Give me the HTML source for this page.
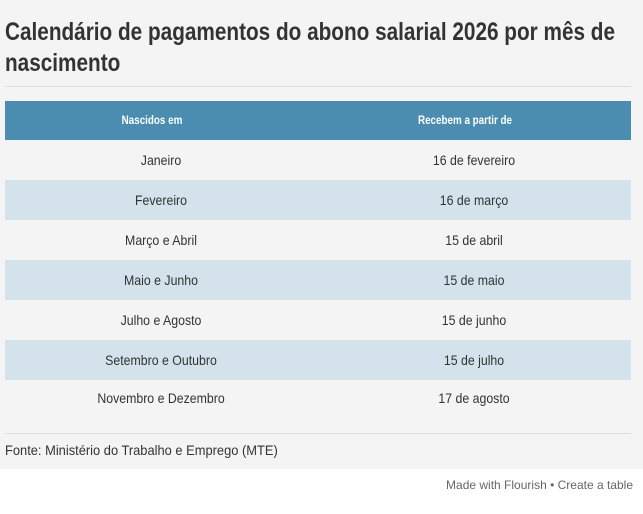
<!DOCTYPE html>
<html><head><meta charset="utf-8"><style>
body{margin:0;width:643px;height:514px;background:#fff;position:relative;overflow:hidden;font-family:"Liberation Sans",sans-serif;color:#333}
#bg{position:absolute;left:0;top:0;width:643px;height:469px;background:#f4f4f4}
.t{position:absolute;left:5px;font-size:25px;font-weight:bold;line-height:31px;color:#333;white-space:nowrap;transform-origin:0 0;transform:scaleX(0.83)}
.hr{position:absolute;left:5px;width:626px;height:1px;background:#dcdcdc}
.row{position:absolute;left:5px;width:626px;height:40px}
.c{position:absolute;top:0;line-height:40px;font-size:14px;text-align:center;transform:translateX(-50%) scaleX(0.88);white-space:nowrap}
.h{background:#4a8db0;color:#fff;font-weight:bold;font-size:12px}
.h .c{font-size:12px;transform:translateX(-50%) scaleX(0.82)}
.b{background:#d3e2eb}
</style></head><body>
<div id="bg"></div>
<div class="t" style="top:17px">Calendário de pagamentos do abono salarial 2026 por mês de</div>
<div class="t" style="top:48px">nascimento</div>
<div class="hr" style="top:86px"></div>
<div class="row h" style="top:101px;height:39px"><span class="c" style="left:147px;line-height:39px">Nascidos em</span><span class="c" style="left:460px;line-height:39px">Recebem a partir de</span></div>
<div class="row" style="top:140px"><span class="c" style="left:156px">Janeiro</span><span class="c" style="left:469px">16 de fevereiro</span></div>
<div class="row b" style="top:180px"><span class="c" style="left:156px">Fevereiro</span><span class="c" style="left:469px">16 de março</span></div>
<div class="row" style="top:220px"><span class="c" style="left:156px">Março e Abril</span><span class="c" style="left:469px">15 de abril</span></div>
<div class="row b" style="top:260px"><span class="c" style="left:156px">Maio e Junho</span><span class="c" style="left:469px">15 de maio</span></div>
<div class="row" style="top:300px"><span class="c" style="left:156px">Julho e Agosto</span><span class="c" style="left:469px">15 de junho</span></div>
<div class="row b" style="top:340px"><span class="c" style="left:156px">Setembro e Outubro</span><span class="c" style="left:469px">15 de julho</span></div>
<div class="row" style="top:378px"><span class="c" style="left:156px">Novembro e Dezembro</span><span class="c" style="left:469px">17 de agosto</span></div>
<div class="hr" style="top:433px"></div>
<div style="position:absolute;left:5px;top:441px;font-size:14px;line-height:18px;white-space:nowrap;transform-origin:0 0;transform:scaleX(0.92)">Fonte: Ministério do Trabalho e Emprego (MTE)</div>
<div style="position:absolute;right:10px;top:478px;font-size:12px;color:#666">Made with Flourish • Create a table</div>
</body></html>
